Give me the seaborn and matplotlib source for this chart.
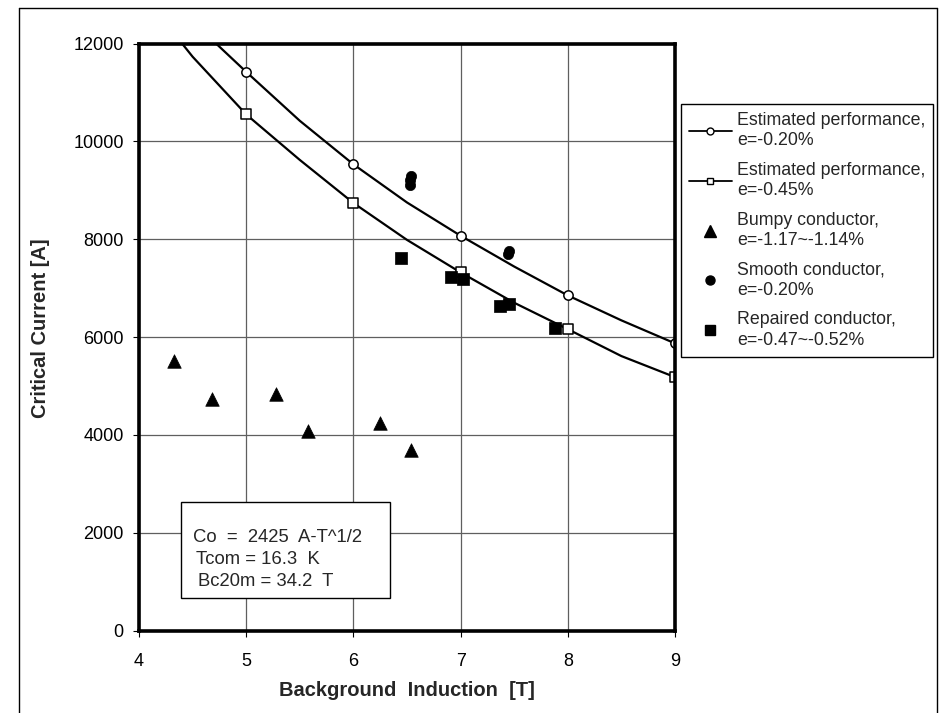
import matplotlib
matplotlib.use("Agg")
import matplotlib.pyplot as plt
from matplotlib.lines import Line2D
from matplotlib.patches import Rectangle
import numpy as np
import pandas as pd
import seaborn as sns

# Estimated critical current curves (scaling-law estimate)
curve_b = [4.0, 4.5, 5.0, 5.5, 6.0, 6.5, 7.0, 7.5, 8.0, 8.5, 9.0]
est_020 = [13650, 12450, 11420, 10420, 9530, 8750, 8070, 7440, 6850, 6340, 5870]
est_045 = [13100, 11730, 10550, 9620, 8740, 7985, 7320, 6700, 6160, 5610, 5180]

# Measured samples
bumpy_b = [4.33, 4.68, 5.28, 5.58, 6.25, 6.54]
bumpy_ic = [5510, 4740, 4840, 4070, 4250, 3700]

smooth_b = [6.54, 6.53, 6.53, 7.45, 7.44]
smooth_ic = [9300, 9200, 9110, 7760, 7690]

repaired_b = [6.44, 6.91, 7.02, 7.37, 7.45, 7.88]
repaired_ic = [7620, 7230, 7190, 6630, 6680, 6180]

x_ticks = [4, 5, 6, 7, 8, 9]
y_ticks = [0, 2000, 4000, 6000, 8000, 10000, 12000]

legend_labels = [
    "Estimated performance,\ne=-0.20%",
    "Estimated performance,\ne=-0.45%",
    "Bumpy conductor,\ne=-1.17~-1.14%",
    "Smooth conductor,\ne=-0.20%",
    "Repaired conductor,\ne=-0.47~-0.52%",
]
note_lines = ["Co  =  2425  A-T^1/2", "Tcom = 16.3  K", "Bc20m = 34.2  T"]

sns.set_theme(style="white")
plt.rcParams["font.family"] = ["Liberation Sans", "DejaVu Sans"]

W, H = 939, 713
fig = plt.figure(figsize=(W / 100, H / 100), dpi=100)
fig.patch.set_facecolor("white")


def fx(px):
    return px / W


def fy(py):
    return 1 - py / H


ax = fig.add_axes([fx(139), fy(630.5), (675 - 139) / W, (630.5 - 43.5) / H])

curves = pd.DataFrame({"B": curve_b, "e020": est_020, "e045": est_045})
marks = curves[np.isclose(curves["B"] % 1, 0)]

sns.lineplot(data=curves, x="B", y="e020", ax=ax, color="black", lw=1.6,
             sort=False, estimator=None, zorder=3)
sns.lineplot(data=curves, x="B", y="e045", ax=ax, color="black", lw=1.6,
             sort=False, estimator=None, zorder=3)
sns.scatterplot(data=marks, x="B", y="e020", ax=ax, marker="o", s=45,
                facecolor="white", edgecolor="black", linewidth=1.1, zorder=4)
sns.scatterplot(data=marks, x="B", y="e045", ax=ax, marker="s", s=45,
                facecolor="white", edgecolor="black", linewidth=1.1, zorder=4)

sns.scatterplot(x=bumpy_b, y=bumpy_ic, ax=ax, marker="^", s=95,
                color="black", edgecolor="black", linewidth=0.5, zorder=4)
sns.scatterplot(x=smooth_b, y=smooth_ic, ax=ax, marker="o", s=55,
                color="black", edgecolor="black", linewidth=0.5, zorder=4)
sns.scatterplot(x=repaired_b, y=repaired_ic, ax=ax, marker="s", s=80,
                color="black", edgecolor="black", linewidth=0.5, zorder=4)

ax.set_xlim(4, 9)
ax.set_ylim(0, 12000)
ax.set_xticks(x_ticks)
ax.set_yticks(y_ticks)
ax.set_xticklabels([str(t) for t in x_ticks])
ax.set_yticklabels([str(t) for t in y_ticks])
ax.grid(True, color="#5f5f5f", lw=0.9)
ax.set_axisbelow(True)
ax.tick_params(axis="both", which="major", bottom=True, left=True,
               direction="out", length=4, width=0.8, colors="black",
               labelsize=13)
ax.tick_params(axis="x", pad=12)
ax.tick_params(axis="y", pad=7)
for sp in ax.spines.values():
    sp.set_color("black")
    sp.set_linewidth(2.6)
    sp.set_zorder(6)

ax.set_xlabel("Background  Induction  [T]", fontsize=14.5, fontweight="bold")
ax.xaxis.set_label_coords(0.5, (630.5 - 690) / 587)
ax.xaxis.label.set_verticalalignment("center")
ax.set_ylabel("Critical Current [A]", fontsize=14.5, fontweight="bold",
              fontstretch="condensed")
ax.yaxis.set_label_coords((41 - 139) / 536, (630.5 - 328) / 587)
ax.yaxis.label.set_verticalalignment("center")

handles = [
    Line2D([], [], color="black", lw=1.3, marker="o", ms=5,
           mfc="white", mec="black", mew=1.0),
    Line2D([], [], color="black", lw=1.3, marker="s", ms=5,
           mfc="white", mec="black", mew=1.0),
    Line2D([], [], ls="none", marker="^", ms=8, color="black"),
    Line2D([], [], ls="none", marker="o", ms=6.5, color="black"),
    Line2D([], [], ls="none", marker="s", ms=7, color="black"),
]
leg = ax.legend(handles, legend_labels, loc="upper left",
                bbox_to_anchor=(fx(681), fy(104)), bbox_transform=fig.transFigure,
                borderaxespad=0, frameon=True, fancybox=False, framealpha=1,
                edgecolor="black", fontsize=12.8, handlelength=2.4,
                handletextpad=0.3, labelspacing=0.70, borderpad=0.45)
leg.get_frame().set_linewidth(1.0)
for t in leg.get_texts():
    t.set_linespacing(1.26)

# Parameter box
fig.add_artist(Rectangle((fx(181), fy(598)), (390 - 181) / W, (598 - 502) / H,
                         transform=fig.transFigure, facecolor="white",
                         edgecolor="black", lw=1.0, zorder=5))
for txt, px, py in zip(note_lines, [193, 196, 198], [537, 560, 582]):
    fig.text(fx(px), fy(py), txt, fontsize=13.3, va="center", ha="left", zorder=6)

# Outer frame
frame_kw = dict(transform=fig.transFigure, color="black", lw=1.0)
fig.add_artist(Line2D([fx(19), fx(19)], [0, fy(8)], **frame_kw))
fig.add_artist(Line2D([fx(19), fx(937)], [fy(8), fy(8)], **frame_kw))
fig.add_artist(Line2D([fx(937), fx(937)], [fy(8), 0], **frame_kw))

fig.savefig("out.png", dpi=100, facecolor="white")
